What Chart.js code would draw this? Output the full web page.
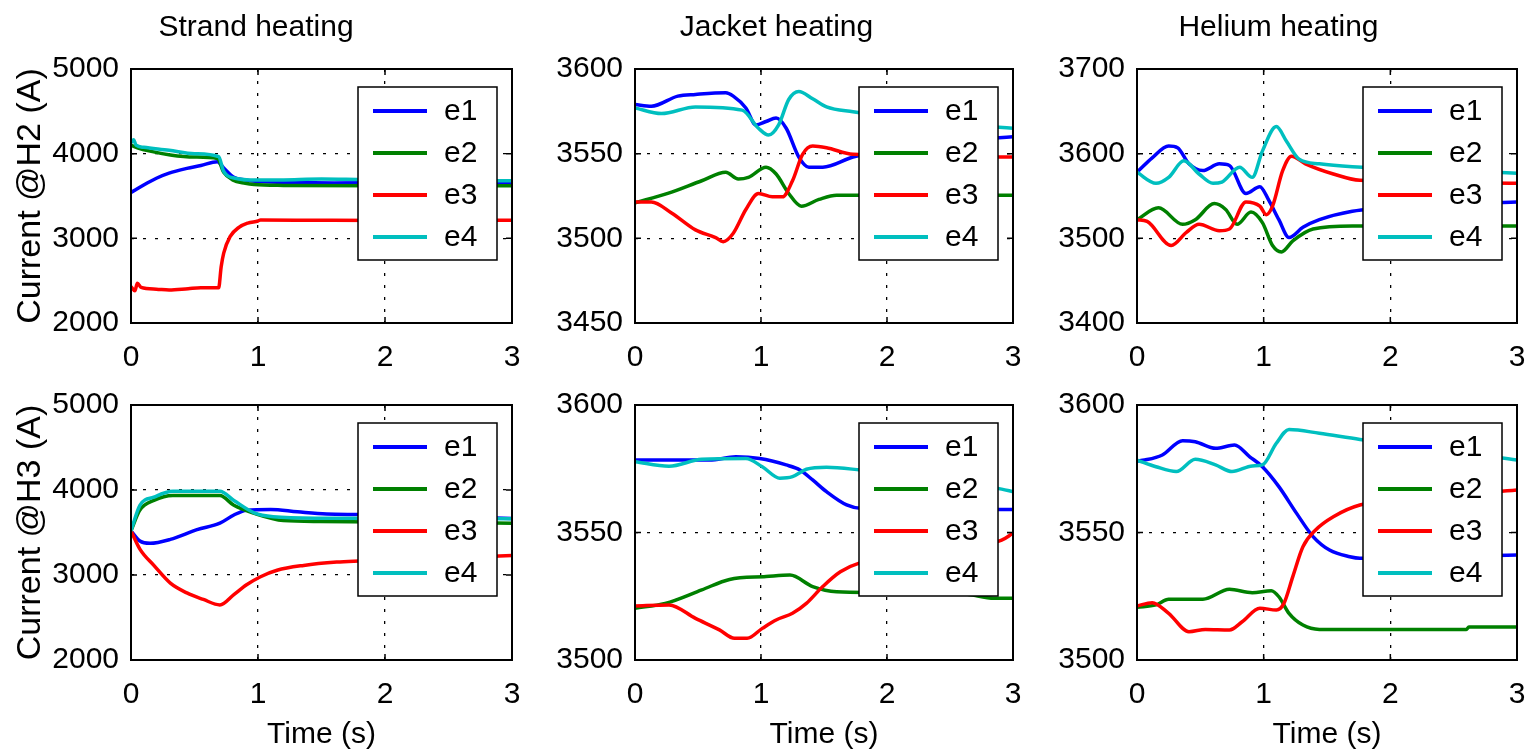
<!DOCTYPE html>
<html>
<head>
<meta charset="utf-8">
<title>Heating scenarios</title>
<script src="https://cdn.jsdelivr.net/npm/chart.js@4.4.1/dist/chart.umd.min.js"></script>
<style>
  html, body { margin: 0; padding: 0; background: #fff; }
  #fig { position: relative; width: 1535px; height: 754px; overflow: hidden; }
  .cell { position: absolute; }
  .cell canvas { display: block; }
</style>
</head>
<body>
<div id="fig">
  <div class="cell" style="left:0px;top:0px"><canvas id="strandH2" width="560" height="375"></canvas></div>
  <div class="cell" style="left:540px;top:0px"><canvas id="jacketH2" width="520" height="375"></canvas></div>
  <div class="cell" style="left:1040px;top:0px"><canvas id="heliumH2" width="520" height="375"></canvas></div>
  <div class="cell" style="left:0px;top:375px"><canvas id="strandH3" width="560" height="379"></canvas></div>
  <div class="cell" style="left:540px;top:375px"><canvas id="jacketH3" width="520" height="379"></canvas></div>
  <div class="cell" style="left:1040px;top:375px"><canvas id="heliumH3" width="520" height="379"></canvas></div>
</div>
<script>
const seriesNames = ["e1", "e2", "e3", "e4"];
const seriesColors = ["#0000ff", "#008000", "#ff0000", "#00bfbf"];
const timeTicks = [0, 1, 2, 3];
const columnTitles = ["Strand heating", "Jacket heating", "Helium heating"];
const rowTitles = ["Current @H2 (A)", "Current @H3 (A)"];

// [time (s), current (A)]
const strandH2E1 = [[0,3540],[0.1,3630],[0.2,3710],[0.3,3770],[0.44,3826],[0.55,3860],[0.68,3905],[0.73,3830],[0.81,3720],[0.9,3690],[1.0,3670],[1.3,3660],[1.6,3655],[2.0,3660],[3.0,3660]];
const strandH2E2 = [[0,4100],[0.05,4070],[0.15,4030],[0.31,3985],[0.5,3960],[0.68,3944],[0.73,3780],[0.8,3690],[0.9,3650],[0.97,3635],[1.2,3625],[2,3620],[3,3620]];
const strandH2E3 = [[0,2430],[0.03,2380],[0.05,2470],[0.08,2420],[0.2,2400],[0.3,2390],[0.45,2405],[0.55,2415],[0.69,2415],[0.71,2665],[0.73,2826],[0.78,3020],[0.85,3130],[0.92,3180],[1.0,3205],[1.02,3216],[1.3,3215],[2,3210],[3,3215]];
const strandH2E4 = [[0,4130],[0.02,4165],[0.04,4100],[0.1,4075],[0.3,4040],[0.5,4000],[0.69,3965],[0.73,3790],[0.82,3710],[0.98,3688],[1.2,3690],[1.5,3700],[1.8,3695],[2.5,3685],[3,3680]];

const jacketH2E1 = [[0,3579],[0.13,3578],[0.34,3584],[0.48,3585],[0.72,3586],[0.78,3584],[0.88,3577],[0.96,3567],[1.04,3569],[1.12,3571],[1.2,3565],[1.3,3548],[1.38,3542],[1.49,3542],[1.73,3548],[2.2,3555],[3,3560]];
const jacketH2E2 = [[0,3521],[0.26,3526.5],[0.53,3534],[0.72,3539],[0.82,3535],[0.9,3536],[1.04,3542],[1.12,3538],[1.22,3526.5],[1.32,3519],[1.46,3523],[1.6,3525.5],[3,3525.5]];
const jacketH2E3 = [[0,3521.5],[0.13,3521.5],[0.29,3515],[0.48,3505],[0.64,3500.4],[0.7,3498],[0.78,3503],[0.88,3517],[0.98,3526.5],[1.09,3524.5],[1.17,3524.5],[1.25,3534],[1.33,3549.6],[1.41,3554.5],[1.52,3553.5],[1.73,3549.6],[3,3548]];
const jacketH2E4 = [[0,3577],[0.21,3573.7],[0.48,3577.6],[0.85,3575.7],[0.98,3565],[1.06,3561],[1.14,3567],[1.22,3582],[1.3,3586.7],[1.41,3582.4],[1.52,3577.6],[1.73,3574.7],[2.2,3570],[3,3565]];

const heliumH2E1 = [[0,3578],[0.12,3595],[0.25,3609],[0.32,3607],[0.41,3588],[0.52,3580],[0.65,3588],[0.73,3586],[0.86,3553],[0.97,3561],[1.04,3545],[1.12,3522],[1.2,3501],[1.31,3513],[1.44,3522],[1.7,3532],[2.2,3538],[3,3543]];
const heliumH2E2 = [[0,3522],[0.17,3536],[0.36,3516.5],[0.46,3522],[0.61,3541],[0.7,3534],[0.79,3516.5],[0.9,3531],[0.99,3518.5],[1.07,3491.5],[1.14,3484],[1.23,3497],[1.39,3511],[1.7,3514.5],[3,3514.5]];
const heliumH2E3 = [[0,3522],[0.08,3520],[0.27,3491.5],[0.39,3507],[0.49,3516.5],[0.65,3509],[0.73,3511],[0.86,3543],[0.97,3538],[1.02,3528],[1.07,3538],[1.15,3580],[1.22,3597],[1.33,3588],[1.55,3576],[1.76,3568.5],[3,3565]];
const heliumH2E4 = [[0,3578],[0.15,3565],[0.25,3572],[0.37,3591.5],[0.49,3576],[0.6,3565],[0.67,3566.5],[0.81,3584],[0.91,3572],[0.99,3603],[1.1,3632],[1.18,3614.7],[1.28,3593.5],[1.44,3588],[1.7,3584.6],[3,3577]];

const strandH3E1 = [[0,3520],[0.07,3400],[0.15,3373],[0.31,3419],[0.52,3534],[0.7,3610],[0.81,3706],[0.91,3763],[1.1,3771],[1.31,3743],[1.54,3717],[1.8,3712],[2.4,3690],[3,3665]];
const strandH3E2 = [[0,3520],[0.07,3763],[0.18,3877],[0.33,3935],[0.7,3935],[0.81,3820],[0.97,3725],[1.2,3640],[1.49,3629],[2.2,3620],[3,3610]];
const strandH3E3 = [[0,3520],[0.07,3305],[0.18,3113],[0.31,2904],[0.44,2789],[0.57,2712],[0.7,2648],[0.81,2770],[0.91,2885],[1.02,2980],[1.15,3056],[1.36,3113],[1.62,3152],[1.8,3165],[2.4,3200],[3,3228]];
const strandH3E4 = [[0,3520],[0.07,3820],[0.18,3915],[0.33,3984],[0.7,3984],[0.81,3877],[0.97,3732],[1.12,3686],[1.49,3668],[3,3663]];

const jacketH3E1 = [[0,3578.4],[0.59,3578.4],[0.8,3579.7],[0.99,3579],[1.2,3576.5],[1.31,3574.5],[1.41,3570.6],[1.52,3566],[1.68,3560.8],[1.79,3559.5],[3,3559]];
const jacketH3E2 = [[0,3520.3],[0.24,3522.2],[0.53,3527.5],[0.75,3531.6],[1.04,3532.7],[1.23,3533.3],[1.41,3528.8],[1.6,3526.8],[2.6,3526],[2.85,3524.2],[3,3524.2]];
const jacketH3E3 = [[0,3521.2],[0.27,3521.6],[0.48,3516.3],[0.67,3511.8],[0.79,3508.5],[0.89,3508.5],[1.01,3512.4],[1.12,3515.7],[1.25,3518.3],[1.36,3522.2],[1.49,3528.8],[1.63,3534.6],[1.79,3538.2],[2.3,3542],[2.91,3547],[3,3549.7]];
const jacketH3E4 = [[0,3577.8],[0.27,3576],[0.53,3578.7],[0.88,3579],[1.01,3575.8],[1.15,3571.3],[1.25,3571.9],[1.36,3574.8],[1.52,3575.6],[1.79,3574.5],[2.4,3571],[2.91,3567],[3,3566]];

const heliumH3E1 = [[0,3578],[0.06,3578.4],[0.2,3580.4],[0.36,3586],[0.46,3585.6],[0.62,3583],[0.77,3584.3],[0.89,3579.7],[0.99,3575.8],[1.12,3568],[1.26,3557.5],[1.39,3548.4],[1.52,3543.1],[1.68,3540.5],[1.76,3539.9],[3,3541.2]];
const heliumH3E2 = [[0,3520.7],[0.15,3521.6],[0.25,3523.8],[0.52,3523.8],[0.73,3527.7],[0.91,3526.4],[1.06,3527.2],[1.12,3524.8],[1.2,3518.3],[1.31,3513.7],[1.44,3512],[2.6,3512],[2.62,3512.9],[3,3512.9]];
const heliumH3E3 = [[0,3521.2],[0.12,3522.5],[0.25,3518.3],[0.41,3511.1],[0.54,3512],[0.73,3511.8],[0.83,3515],[0.97,3520.3],[1.1,3519.6],[1.16,3522.2],[1.23,3532.7],[1.31,3544.4],[1.41,3551],[1.55,3556.2],[1.76,3560.8],[3,3566.7]];
const heliumH3E4 = [[0,3578.4],[0.15,3575.8],[0.31,3573.9],[0.46,3578.7],[0.62,3576.5],[0.75,3573.9],[0.91,3576.1],[0.99,3576.5],[1.1,3585],[1.2,3590.4],[1.44,3588.9],[1.76,3586.5],[2.5,3582],[3,3578.4]];

// y ranges per panel: [min, max, step]
const strandRange = [2000, 5000, 1000];
const jacketH2Range = [3450, 3600, 50];
const heliumH2Range = [3400, 3700, 100];
const jacketH3Range = [3500, 3600, 50];
const heliumH3Range = [3500, 3600, 50];

const FONT = "'Liberation Sans', Arial, sans-serif";

// draws the axes frame, inward ticks and the boxed legend
const framePlugin = {
  id: "frame",
  afterDatasetsDraw(chart) {
    const { ctx, chartArea: a, scales } = chart;
    const xs = scales.x;
    const ys = scales.y;
    const tick = 6;
    ctx.save();
    ctx.strokeStyle = "#000";
    ctx.lineWidth = 1.5;
    ctx.beginPath();
    xs.ticks.forEach((t) => {
      const px = xs.getPixelForValue(t.value);
      ctx.moveTo(px, a.bottom);
      ctx.lineTo(px, a.bottom - tick);
      ctx.moveTo(px, a.top);
      ctx.lineTo(px, a.top + tick);
    });
    ys.ticks.forEach((t) => {
      const py = ys.getPixelForValue(t.value);
      ctx.moveTo(a.left, py);
      ctx.lineTo(a.left + tick, py);
      ctx.moveTo(a.right, py);
      ctx.lineTo(a.right - tick, py);
    });
    ctx.stroke();
    ctx.lineWidth = 2;
    ctx.strokeRect(a.left, a.top, a.right - a.left, a.bottom - a.top);

    // legend box
    const w = 139;
    const h = 173;
    const bx = a.right - 15 - w;
    const by = a.top + 18;
    ctx.fillStyle = "#fff";
    ctx.fillRect(bx, by, w, h);
    ctx.lineWidth = 1.5;
    ctx.strokeRect(bx, by, w, h);
    ctx.font = "30px " + FONT;
    ctx.textBaseline = "middle";
    ctx.textAlign = "left";
    chart.data.datasets.forEach((ds, i) => {
      const ry = by + 24 + 42 * i;
      ctx.strokeStyle = ds.borderColor;
      ctx.lineWidth = 4;
      ctx.beginPath();
      ctx.moveTo(bx + 15, ry);
      ctx.lineTo(bx + 69, ry);
      ctx.stroke();
      ctx.fillStyle = "#000";
      ctx.fillText(ds.label, bx + 86, ry + 1);
    });
    ctx.restore();
  },
};

function toPoints(pairs) {
  return pairs.map((p) => ({ x: p[0], y: p[1] }));
}

function buildPanel(id, series, range, row, col) {
  const canvas = document.getElementById(id);
  const yAxisWidth = [131, 95, 97][col];
  const padRight = [48, 47, 43][col];
  const padTop = row === 0 ? 0 : 30;
  const xAxisHeight = row === 0 ? 52 : 94;

  const datasets = series.map((pairs, i) => ({
    label: seriesNames[i],
    data: toPoints(pairs),
    borderColor: seriesColors[i],
    borderWidth: 3.5,
    pointRadius: 0,
    fill: false,
    cubicInterpolationMode: "monotone",
    order: 4 - i,
  }));

  return new Chart(canvas, {
    type: "line",
    data: { datasets },
    plugins: [framePlugin],
    options: {
      responsive: false,
      animation: false,
      events: [],
      layout: {
        padding: { left: 0, right: padRight, top: padTop, bottom: 0 },
      },
      plugins: {
        legend: { display: false },
        tooltip: { enabled: false },
        title: {
          display: row === 0,
          text: columnTitles[col],
          color: "#000",
          font: { family: FONT, size: 30, weight: "normal", lineHeight: 1.2 },
          padding: { top: 10, bottom: 23 },
        },
      },
      scales: {
        x: {
          type: "linear",
          min: timeTicks[0],
          max: timeTicks[timeTicks.length - 1],
          afterBuildTicks: (scale) => {
            scale.ticks = timeTicks.map((v) => ({ value: v }));
          },
          afterFit: (scale) => {
            scale.height = xAxisHeight;
          },
          grid: { color: "#000", lineWidth: 1.3, drawTicks: false },
          border: { display: false, dash: [3, 9] },
          ticks: {
            color: "#000",
            padding: 17,
            maxRotation: 0,
            font: { family: FONT, size: 30 },
            callback: (v) => String(v),
          },
          title: {
            display: row === 1,
            text: "Time (s)",
            color: "#000",
            font: { family: FONT, size: 30, lineHeight: 1.2 },
            padding: { top: 0, bottom: 1 },
          },
        },
        y: {
          type: "linear",
          min: range[0],
          max: range[1],
          afterFit: (scale) => {
            scale.width = yAxisWidth;
          },
          grid: { color: "#000", lineWidth: 1.3, drawTicks: false },
          border: { display: false, dash: [3, 9] },
          ticks: {
            stepSize: range[2],
            color: "#000",
            padding: 12,
            font: { family: FONT, size: 30 },
            callback: (v) => String(v),
          },
          title: {
            display: col === 0,
            text: rowTitles[row],
            color: "#000",
            font: { family: FONT, size: 34, lineHeight: 1.2 },
            padding: { top: 10, bottom: 0 },
          },
        },
      },
    },
  });
}

function buildFigure() {
  Chart.defaults.font.family = FONT;
  Chart.defaults.color = "#000";
  buildPanel("strandH2", [strandH2E1, strandH2E2, strandH2E3, strandH2E4], strandRange, 0, 0);
  buildPanel("jacketH2", [jacketH2E1, jacketH2E2, jacketH2E3, jacketH2E4], jacketH2Range, 0, 1);
  buildPanel("heliumH2", [heliumH2E1, heliumH2E2, heliumH2E3, heliumH2E4], heliumH2Range, 0, 2);
  buildPanel("strandH3", [strandH3E1, strandH3E2, strandH3E3, strandH3E4], strandRange, 1, 0);
  buildPanel("jacketH3", [jacketH3E1, jacketH3E2, jacketH3E3, jacketH3E4], jacketH3Range, 1, 1);
  buildPanel("heliumH3", [heliumH3E1, heliumH3E2, heliumH3E3, heliumH3E4], heliumH3Range, 1, 2);
}

buildFigure();
</script>
</body>
</html>
